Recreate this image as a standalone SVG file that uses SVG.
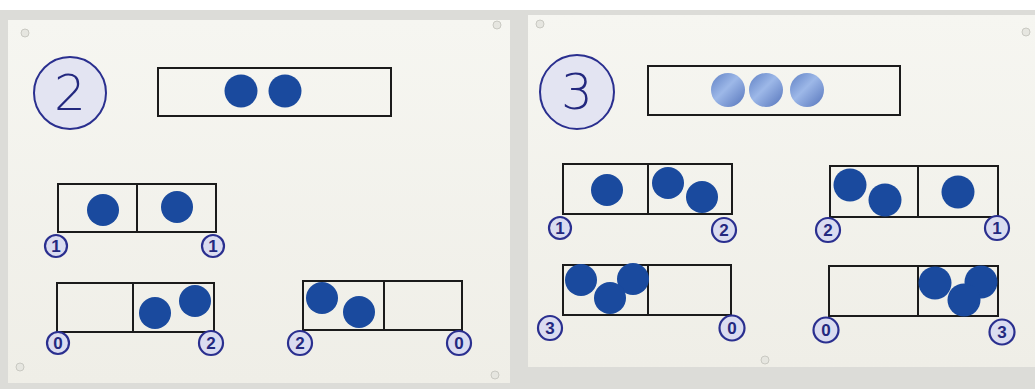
<svg xmlns="http://www.w3.org/2000/svg" width="1035" height="389" viewBox="0 0 1035 389">
<defs>
<linearGradient id="silver" x1="0" y1="0" x2="1" y2="1">
<stop offset="0" stop-color="#5f80c4"/>
<stop offset="0.45" stop-color="#9db8e8"/>
<stop offset="1" stop-color="#5574bb"/>
</linearGradient>
<linearGradient id="paperL" x1="0" y1="0" x2="0" y2="1">
<stop offset="0" stop-color="#f6f6f1"/>
<stop offset="1" stop-color="#efeee7"/>
</linearGradient>
</defs>
<style>
.frame{fill:none;stroke:#1b1b1b;stroke-width:2}
.div{stroke:#1b1b1b;stroke-width:2}
.dot{fill:#1a4a9e}
.badge{fill:#dadcf0;stroke:#2a2f8f;stroke-width:2.2}
.bt{font-family:"Liberation Sans",Arial,sans-serif;font-size:17px;font-weight:bold;fill:#23287f;text-anchor:middle;dominant-baseline:central}
.big{fill:#e3e4f2;stroke:#2a2f8f;stroke-width:2}
.bigt{font-family:"DejaVu Sans","Liberation Sans",sans-serif;font-weight:200;font-size:50px;fill:#23287f;text-anchor:middle;dominant-baseline:central}
.pin{fill:#e6e6e0;stroke:#c9c9c2;stroke-width:1}
</style>
<rect x="0" y="0" width="1035" height="389" fill="#dcdcd8"/>
<rect x="0" y="0" width="1035" height="10" fill="#ffffff"/>
<g id="paper-left">
<rect x="8" y="20" width="502" height="363" fill="url(#paperL)"/>
<circle class="pin" cx="25" cy="33" r="4"/>
<circle class="pin" cx="497" cy="25" r="4"/>
<circle class="pin" cx="20" cy="367" r="4"/>
<circle class="pin" cx="495" cy="375" r="4"/>
</g>
<g id="paper-right">
<rect x="528" y="15" width="507" height="352" fill="url(#paperL)"/>
<circle class="pin" cx="540" cy="24" r="4"/>
<circle class="pin" cx="1026" cy="32" r="4"/>
<circle class="pin" cx="765" cy="360" r="4"/>
</g>
<g id="number-2">
<circle class="big" cx="70" cy="93" r="36"/>
<text class="bigt" x="70" y="93">2</text>
</g>
<g id="bar-2">
<rect class="frame" x="158" y="68" width="233" height="48"/>
<circle class="dot" cx="241" cy="91" r="16.5"/>
<circle class="dot" cx="285" cy="91" r="16.5"/>
</g>
<g id="split-2-1-1">
<rect class="frame" x="58" y="184" width="158" height="48"/>
<line class="div" x1="137" y1="184" x2="137" y2="232"/>
<circle class="dot" cx="103" cy="210" r="16"/>
<circle class="dot" cx="177" cy="207" r="16"/>
<circle class="badge" cx="56" cy="246" r="11"/><text class="bt" x="56" y="246">1</text>
<circle class="badge" cx="213" cy="246" r="11"/><text class="bt" x="213" y="246">1</text>
</g>
<g id="split-2-0-2">
<rect class="frame" x="57" y="283" width="157" height="49"/>
<line class="div" x1="133" y1="283" x2="133" y2="332"/>
<circle class="dot" cx="155" cy="313" r="16"/>
<circle class="dot" cx="195" cy="301" r="16"/>
<circle class="badge" cx="58" cy="343" r="11"/><text class="bt" x="58" y="343">0</text>
<circle class="badge" cx="211" cy="343" r="12"/><text class="bt" x="211" y="343">2</text>
</g>
<g id="split-2-2-0">
<rect class="frame" x="303" y="281" width="159" height="49"/>
<line class="div" x1="384" y1="281" x2="384" y2="330"/>
<circle class="dot" cx="322" cy="298" r="16"/>
<circle class="dot" cx="359" cy="312" r="16"/>
<circle class="badge" cx="300" cy="343" r="12"/><text class="bt" x="300" y="343">2</text>
<circle class="badge" cx="459" cy="343" r="12"/><text class="bt" x="459" y="343">0</text>
</g>
<g id="number-3">
<circle class="big" cx="577" cy="92" r="37"/>
<text class="bigt" x="577" y="92">3</text>
</g>
<g id="bar-3">
<rect class="frame" x="648" y="66" width="252" height="49"/>
<circle cx="728" cy="90" r="17" fill="url(#silver)"/>
<circle cx="766" cy="90" r="17" fill="url(#silver)"/>
<circle cx="807" cy="90" r="17" fill="url(#silver)"/>
</g>
<g id="split-3-1-2">
<rect class="frame" x="563" y="164" width="169" height="50"/>
<line class="div" x1="648" y1="164" x2="648" y2="214"/>
<circle class="dot" cx="607" cy="190" r="16"/>
<circle class="dot" cx="668" cy="183" r="16"/>
<circle class="dot" cx="702" cy="197" r="16"/>
<circle class="badge" cx="560" cy="228" r="11"/><text class="bt" x="560" y="228">1</text>
<circle class="badge" cx="724" cy="230" r="12"/><text class="bt" x="724" y="230">2</text>
</g>
<g id="split-3-2-1">
<rect class="frame" x="830" y="166" width="168" height="51"/>
<line class="div" x1="918" y1="166" x2="918" y2="217"/>
<circle class="dot" cx="850" cy="185" r="16.5"/>
<circle class="dot" cx="885" cy="200" r="16.5"/>
<circle class="dot" cx="958" cy="192" r="16.5"/>
<circle class="badge" cx="828" cy="230" r="12"/><text class="bt" x="828" y="230">2</text>
<circle class="badge" cx="997" cy="228" r="12"/><text class="bt" x="997" y="228">1</text>
</g>
<g id="split-3-3-0">
<rect class="frame" x="563" y="265" width="168" height="50"/>
<line class="div" x1="648" y1="265" x2="648" y2="315"/>
<circle class="dot" cx="581" cy="280" r="16"/>
<circle class="dot" cx="633" cy="279" r="16"/>
<circle class="dot" cx="610" cy="298" r="16"/>
<circle class="badge" cx="550" cy="328" r="12"/><text class="bt" x="550" y="328">3</text>
<circle class="badge" cx="732" cy="328" r="12.5"/><text class="bt" x="732" y="328">0</text>
</g>
<g id="split-3-0-3">
<rect class="frame" x="829" y="266" width="169" height="50"/>
<line class="div" x1="918" y1="266" x2="918" y2="316"/>
<circle class="dot" cx="935" cy="283" r="16.5"/>
<circle class="dot" cx="981" cy="282" r="16.5"/>
<circle class="dot" cx="964" cy="300" r="16.5"/>
<circle class="badge" cx="826" cy="330" r="12.5"/><text class="bt" x="826" y="330">0</text>
<circle class="badge" cx="1002" cy="332" r="12.5"/><text class="bt" x="1002" y="332">3</text>
</g>
<g id="connectors"></g>
</svg>
